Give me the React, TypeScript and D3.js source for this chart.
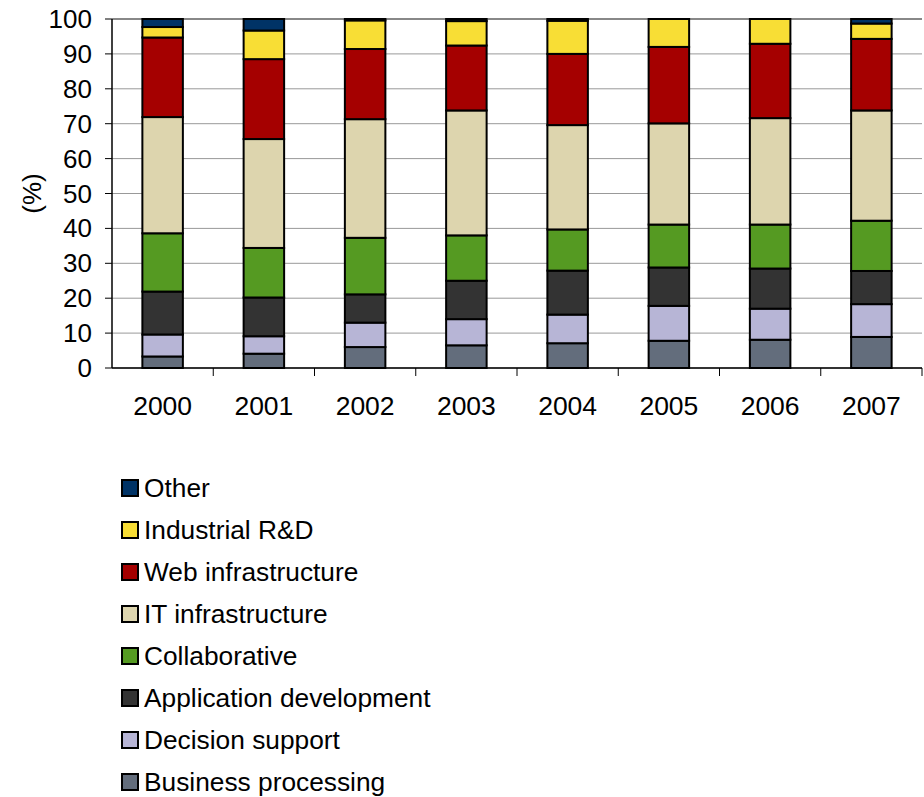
import React from "react";
import * as d3 from "d3";

const years = ["2000", "2001", "2002", "2003", "2004", "2005", "2006", "2007"];
const seriesNames = [
  "Business processing",
  "Decision support",
  "Application development",
  "Collaborative",
  "IT infrastructure",
  "Web infrastructure",
  "Industrial R&D",
  "Other",
];
const businessProcessing = [3.3, 4.1, 6.0, 6.5, 7.1, 7.8, 8.1, 8.9];
const decisionSupport = [6.3, 5.0, 7.0, 7.5, 8.2, 10.0, 8.9, 9.4];
const applicationDevelopment = [12.3, 11.1, 8.1, 11.0, 12.6, 11.0, 11.5, 9.5];
const collaborative = [16.7, 14.2, 16.2, 13.0, 11.8, 12.3, 12.6, 14.4];
const itInfrastructure = [33.3, 31.2, 34.0, 35.8, 29.9, 29.0, 30.5, 31.6];
const webInfrastructure = [22.8, 22.9, 20.1, 18.6, 20.4, 21.9, 21.3, 20.5];
const industrialRD = [3.0, 8.2, 8.2, 7.0, 9.5, 8.0, 7.1, 4.4];
const other = [2.3, 3.3, 0.4, 0.6, 0.5, 0.0, 0.0, 1.3];
const yTicks = [0, 10, 20, 30, 40, 50, 60, 70, 80, 90, 100];

const colors = [
  "#636D7C",
  "#B7B5D6",
  "#333333",
  "#559A22",
  "#DDD5AE",
  "#A50000",
  "#F8DE35",
  "#003366",
];

const seriesValues = [
  businessProcessing,
  decisionSupport,
  applicationDevelopment,
  collaborative,
  itInfrastructure,
  webInfrastructure,
  industrialRD,
  other,
];

export default function App() {
  const W = 924;
  const H = 797;
  const left = 112;
  const right = 922;
  const top = 19;
  const bottom = 368;
  const font = "'Liberation Sans', Arial, sans-serif";

  const rows = years.map((y, i) => {
    const r: Record<string, any> = { year: y };
    seriesNames.forEach((s, k) => (r[s] = seriesValues[k][i]));
    return r;
  });
  const stacked = d3.stack<any>().keys(seriesNames)(rows);

  const x = d3
    .scaleBand<string>()
    .domain(years)
    .range([left, right])
    .paddingInner(0.6)
    .paddingOuter(0.3);
  const y = d3.scaleLinear().domain([0, 100]).range([bottom, top]);
  const step = x.step();

  const legendOrder = [...seriesNames.keys()].reverse();

  return (
    <svg
      width={W}
      height={H}
      style={{ position: "absolute", left: 0, top: 0, background: "#fff" }}
      fontFamily={font}
    >
      {/* gridlines */}
      {yTicks.map((t) => (
        <line
          key={"g" + t}
          x1={left}
          x2={right}
          y1={y(t)}
          y2={y(t)}
          stroke={t === 100 ? "#888" : "#999"}
          strokeWidth={t === 100 ? 2 : 1}
        />
      ))}
      {/* bars */}
      {stacked.map((layer, k) =>
        layer.map((d, i) => {
          const h = y(d[0]) - y(d[1]);
          if (h <= 0.01) return null;
          return (
            <rect
              key={k + "-" + i}
              x={x(years[i])!}
              y={y(d[1])}
              width={x.bandwidth()}
              height={h}
              fill={colors[k]}
              stroke="#000"
              strokeWidth={2}
            />
          );
        })
      )}
      {/* y axis */}
      <line x1={left} x2={left} y1={top} y2={bottom} stroke="#000" strokeWidth={1.5} />
      {yTicks.map((t) => (
        <g key={"yt" + t}>
          <line x1={left - 7} x2={left} y1={y(t)} y2={y(t)} stroke="#000" strokeWidth={1} />
          <text
            x={92}
            y={y(t)}
            textAnchor="end"
            dominantBaseline="central"
            fontSize={26}
            fill="#000"
          >
            {t}
          </text>
        </g>
      ))}
      <text
        transform={`translate(32,${(top + bottom) / 2}) rotate(-90)`}
        textAnchor="middle"
        dominantBaseline="central"
        fontSize={26}
      >
        (%)
      </text>
      {/* x axis */}
      <line x1={left} x2={right} y1={bottom} y2={bottom} stroke="#000" strokeWidth={1.5} />
      {years.map((yr, i) => (
        <line
          key={"xt" + i}
          x1={left + step * (i + 1)}
          x2={left + step * (i + 1)}
          y1={bottom}
          y2={bottom + 8}
          stroke="#000"
        />
      ))}
      {years.map((yr) => (
        <text
          key={"xl" + yr}
          x={x(yr)! + x.bandwidth() / 2}
          y={415}
          textAnchor="middle"
          fontSize={26.5}
        >
          {yr}
        </text>
      ))}
      {/* legend */}
      {legendOrder.map((k, j) => {
        const cy = 488 + j * 42;
        return (
          <g key={"lg" + k}>
            <rect
              x={122}
              y={cy - 8}
              width={16}
              height={16}
              fill={colors[k]}
              stroke="#000"
              strokeWidth={2}
            />
            <text x={144} y={cy} dominantBaseline="central" fontSize={26.3}>
              {seriesNames[k]}
            </text>
          </g>
        );
      })}
    </svg>
  );
}
